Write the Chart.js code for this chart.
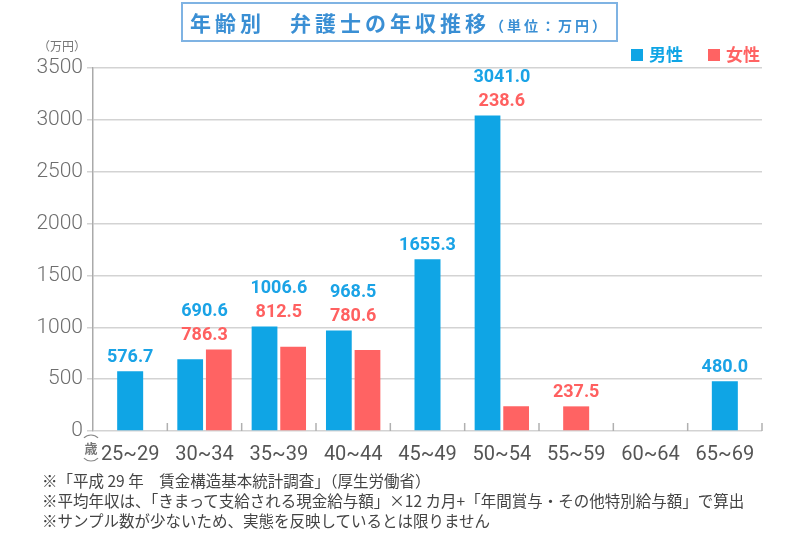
<!DOCTYPE html>
<html lang="ja">
<head>
<meta charset="utf-8">
<script src="https://cdn.jsdelivr.net/npm/chart.js@4"></script>
<style>
  html, body { margin: 0; padding: 0; background: #fff; }
  #wrap { position: relative; width: 800px; height: 533px; font-family: "Noto Sans CJK JP", sans-serif; }
  #title {
    position: absolute; left: 181px; top: 2px; width: 433px; height: 36px;
    border: 2px solid #7fb3e3; box-sizing: content-box;
    color: #3a8fd4; font-weight: bold; font-size: 21px; letter-spacing: 4px;
    line-height: 36px; text-align: center; white-space: nowrap;
  }
  #title small { font-size: 14px; letter-spacing: 3px; }
  #notes {
    position: absolute; left: 42px; top: 470px; color: #444;
    font-size: 15.5px; line-height: 20px; white-space: nowrap;
  }
  canvas { position: absolute; left: 0; top: 0; }
</style>
</head>
<body>
<div id="wrap">
  <canvas id="chart" width="800" height="533"></canvas>
  <div id="title">年齢別　弁護士の年収推移<small>（単位：万円）</small></div>
  <div id="notes">
    ※「平成 29 年　賃金構造基本統計調査」（厚生労働省）<br>
    ※平均年収は、「きまって支給される現金給与額」×12 カ月+「年間賞与・その他特別給与額」で算出<br>
    ※サンプル数が少ないため、実態を反映しているとは限りません
  </div>
</div>
<script>
// 年齢区分
const ageGroups = ['25~29', '30~34', '35~39', '40~44', '45~49', '50~54', '55~59', '60~64', '65~69'];
// 男性の年収（万円）
const maleIncome = [576.7, 690.6, 1006.6, 968.5, 1655.3, 3041.0, null, null, 480.0];
// 女性の年収（万円）
const femaleIncome = [null, 786.3, 812.5, 780.6, null, 238.6, 237.5, null, null];
const yTicks = [0, 500, 1000, 1500, 2000, 2500, 3000, 3500];

const MALE = '#0fa5e5';
const FEMALE = '#ff6363';

// bar value labels, stacked above the taller bar of each group
const valueLabels = {
  id: 'valueLabels',
  afterDatasetsDraw(chart) {
    const ctx = chart.ctx;
    const m0 = chart.getDatasetMeta(0);
    const m1 = chart.getDatasetMeta(1);
    ctx.save();
    ctx.font = 'bold 18px Roboto, sans-serif';
    ctx.textAlign = 'center';
    ctx.textBaseline = 'bottom';
    ageGroups.forEach((g, i) => {
      const bars = [];
      if (maleIncome[i] != null) bars.push(m0.data[i]);
      if (femaleIncome[i] != null) bars.push(m1.data[i]);
      if (!bars.length) return;
      const x = bars.reduce((s, b) => s + b.x, 0) / bars.length;
      let y = Math.min(...bars.map(b => b.y)) - 5;
      if (femaleIncome[i] != null) {
        ctx.fillStyle = '#ff6060';
        ctx.fillText(femaleIncome[i].toFixed(1), x, y);
        y -= 24;
      }
      if (maleIncome[i] != null) {
        ctx.fillStyle = '#1aa3e6';
        ctx.fillText(maleIncome[i].toFixed(1), x, y);
      }
    });
    ctx.restore();
  }
};

// extras: category separators, unit labels, legend
const extras = {
  id: 'extras',
  afterDraw(chart) {
    const ctx = chart.ctx;
    const xs = chart.scales.x;
    const area = chart.chartArea;
    ctx.save();
    ctx.strokeStyle = '#b0b0b0';
    ctx.lineWidth = 1.5;
    for (let i = 1; i <= ageGroups.length; i++) {
      const x = i < ageGroups.length
        ? (xs.getPixelForValue(i - 1) + xs.getPixelForValue(i)) / 2
        : area.right;
      ctx.beginPath();
      ctx.moveTo(x, area.bottom);
      ctx.lineTo(x, area.bottom - 8);
      ctx.stroke();
    }
    // units
    ctx.fillStyle = '#777';
    ctx.font = '12px "Noto Sans CJK JP"';
    ctx.textAlign = 'center';
    ctx.textBaseline = 'middle';
    ctx.fillText('（万円）', 62, 46);
    // vertical (歳)
    const cx = area.left - 2;
    const cy = area.bottom + 17;
    ctx.font = 'bold 13px "Noto Sans CJK JP"';
    ctx.fillText('歳', cx, cy);
    ctx.strokeStyle = '#888';
    ctx.lineWidth = 1.2;
    ctx.beginPath();
    ctx.arc(cx, cy - 3, 10, Math.PI * 1.25, Math.PI * 1.75);
    ctx.stroke();
    ctx.beginPath();
    ctx.arc(cx, cy + 3, 10, Math.PI * 0.25, Math.PI * 0.75);
    ctx.stroke();
    // legend
    ctx.font = 'bold 17px "Noto Sans CJK JP"';
    ctx.textAlign = 'left';
    const items = [[chart.data.datasets[0], 631], [chart.data.datasets[1], 708]];
    items.forEach(([ds, x]) => {
      ctx.fillStyle = ds.backgroundColor;
      ctx.fillRect(x, 49, 12, 12);
      ctx.fillText(ds.label, x + 18, 55);
    });
    ctx.restore();
  }
};

new Chart(document.getElementById('chart'), {
  type: 'bar',
  data: {
    labels: ageGroups,
    datasets: [
      { label: '男性', data: maleIncome, backgroundColor: MALE },
      { label: '女性', data: femaleIncome, backgroundColor: FEMALE }
    ]
  },
  options: {
    responsive: false,
    animation: false,
    skipNull: true,
    categoryPercentage: 0.77,
    barPercentage: 0.9,
    maxBarThickness: 26,
    layout: { padding: { top: 68, right: 38, left: 0, bottom: 0 } },
    plugins: { legend: { display: false }, tooltip: { enabled: false } },
    scales: {
      x: {
        grid: { display: false },
        border: { display: false },
        ticks: {
          color: '#555',
          padding: 4,
          font: { family: '"Liberation Sans Narrow", Roboto, sans-serif', size: 20 }
        },
        afterFit(scale) { scale.height = 102; }
      },
      y: {
        min: 0,
        max: 3500,
        afterBuildTicks(scale) { scale.ticks = yTicks.map(v => ({ value: v })); },
        grid: { color: '#d3d3d3', lineWidth: 1.5, tickLength: 6 },
        border: { color: '#aaa', width: 1.5 },
        ticks: {
          color: '#6e6e6e',
          padding: 4,
          callback: v => String(v),
          font: { family: 'Roboto, sans-serif', size: 21, weight: 300 }
        },
        afterFit(scale) { scale.width = 93; }
      }
    }
  },
  plugins: [valueLabels, extras]
});
</script>
</body>
</html>
